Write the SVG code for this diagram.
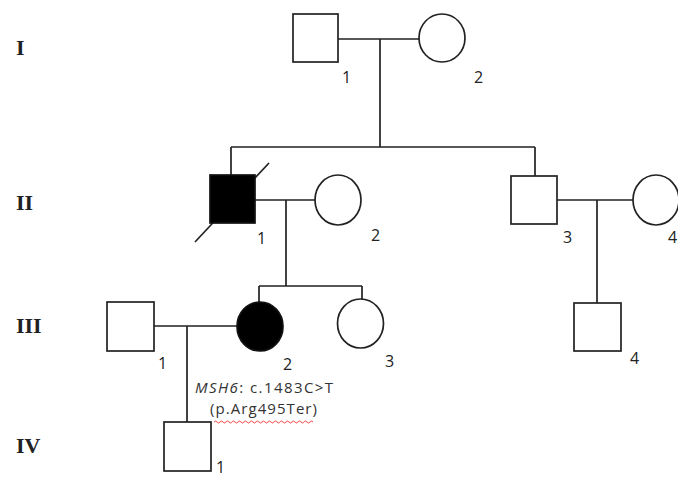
<svg xmlns="http://www.w3.org/2000/svg" width="678" height="480" viewBox="0 0 678 480">
<style>
.sym{fill:#fff;stroke:#222;stroke-width:1.7}
.aff{fill:#000;stroke:#111;stroke-width:1.7}
.ln{stroke:#222;stroke-width:1.7;fill:none}
.gen{font-family:"Liberation Serif",serif;font-weight:bold;font-size:22px;fill:#222}
.num{font-family:"Open Sans","Liberation Sans",sans-serif;font-size:16px;fill:#222}
.var{font-family:"Open Sans","Liberation Sans",sans-serif;font-size:15px;fill:#333}
</style>
<rect width="678" height="480" fill="#fff"/>
<g id="generations">
<text class="gen" x="16" y="55">I</text>
<text class="gen" x="16" y="210">II</text>
<text class="gen" x="16" y="333">III</text>
<text class="gen" x="16" y="453">IV</text>
</g>
<g id="connectors">
<path class="ln" d="M338 39H419 M380 39V147 M231 147H535 M231 147V175 M535 147V176"/>
<path class="ln" d="M255 200H315 M286 200V286 M259 286H362 M259 286V302 M362 286V299"/>
<path class="ln" d="M557 200H633 M597 200V303"/>
<path class="ln" d="M154 326H237 M187 326V422"/>
<path class="ln" d="M195 242L269 163"/>
</g>
<g id="I-1"><rect class="sym" x="293" y="14" width="45" height="48"/><text class="num" x="342" y="83">1</text></g>
<g id="I-2"><ellipse class="sym" cx="442" cy="38" rx="23" ry="24"/><text class="num" x="474" y="83">2</text></g>
<g id="II-1"><rect class="aff" x="210" y="175" width="45" height="48"/><text class="num" x="257" y="244">1</text></g>
<g id="II-2"><ellipse class="sym" cx="338" cy="200" rx="23" ry="25"/><text class="num" x="371" y="241">2</text></g>
<g id="II-3"><rect class="sym" x="511" y="176" width="46" height="48"/><text class="num" x="563" y="243">3</text></g>
<g id="II-4"><ellipse class="sym" cx="656" cy="200" rx="23" ry="25"/><text class="num" x="668" y="243">4</text></g>
<g id="III-1"><rect class="sym" x="107" y="302" width="47" height="49"/><text class="num" x="158" y="369">1</text></g>
<g id="III-2"><ellipse class="aff" cx="260" cy="326.5" rx="23" ry="24.5"/><text class="num" x="283" y="370">2</text></g>
<g id="III-3"><ellipse class="sym" cx="360.5" cy="323.5" rx="23" ry="24.5"/><text class="num" x="385" y="367">3</text></g>
<g id="III-4"><rect class="sym" x="574" y="303" width="47" height="48"/><text class="num" x="630" y="364">4</text></g>
<g id="IV-1"><rect class="sym" x="164" y="422" width="47" height="49"/><text class="num" x="216" y="473">1</text></g>
<g id="variant">
<text class="var" x="195" y="393" textLength="138" lengthAdjust="spacing"><tspan font-style="italic">MSH6</tspan>: c.1483C&gt;T</text>
<text class="var" x="210" y="414" textLength="107" lengthAdjust="spacing">(p.Arg495Ter)</text>
<path d="M214 422 q1.5 -2 3 0 t3 0 t3 0 t3 0 t3 0 t3 0 t3 0 t3 0 t3 0 t3 0 t3 0 t3 0 t3 0 t3 0 t3 0 t3 0 t3 0 t3 0 t3 0 t3 0 t3 0 t3 0 t3 0 t3 0 t3 0 t3 0 t3 0 t3 0 t3 0 t3 0 t3 0 t3 0 t3 0" fill="none" stroke="#e33" stroke-width="0.9"/>
</g>
</svg>
